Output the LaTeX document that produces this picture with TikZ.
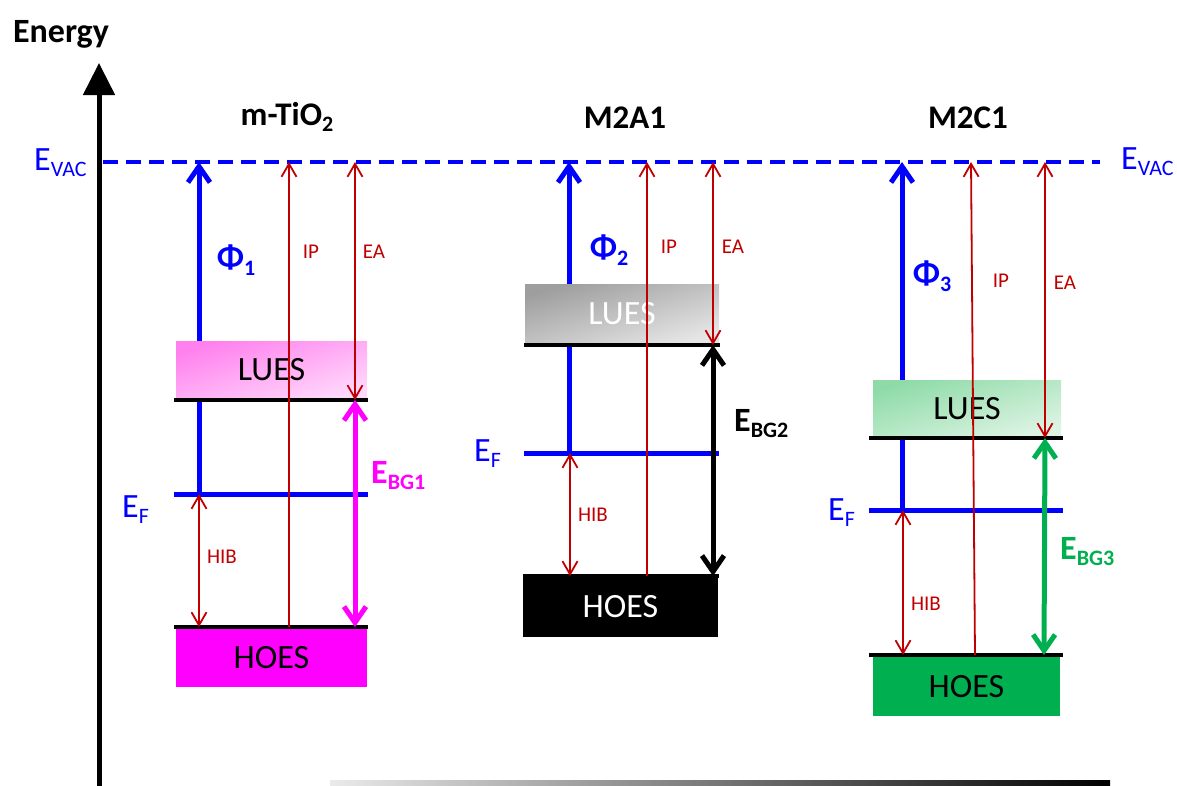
\documentclass[tikz,border=0pt]{standalone}
\usepackage{fontspec}
\setmainfont{Carlito}
\usetikzlibrary{arrows.meta}
\definecolor{vblue}{RGB}{0,0,255}
\definecolor{dred}{RGB}{192,0,0}
\definecolor{mag}{RGB}{255,0,255}
\definecolor{ogreen}{RGB}{0,176,80}
\definecolor{pinkA}{RGB}{255,128,238}
\definecolor{pinkB}{RGB}{255,216,251}
\definecolor{grayA}{RGB}{158,158,158}
\definecolor{grayB}{RGB}{230,230,230}
\definecolor{greenA}{RGB}{143,219,168}
\definecolor{greenB}{RGB}{221,244,228}
\newcommand{\fs}[1]{\fontsize{#1}{#1}\selectfont}
\newcommand{\dn}[2]{\raisebox{-0.2em}{\fs{#1}#2}}
\tikzset{
  lvl/.style={line width=4pt, black},
  efl/.style={line width=5pt, vblue},
  phiarr/.style={line width=5pt, vblue, -{Straight Barb[length=16pt,width=22pt]}},
  redup/.style={line width=1.8pt, dred, -{Straight Barb[length=13pt,width=15pt]}},
  redbi/.style={line width=1.8pt, dred, {Straight Barb[length=13pt,width=15pt]}-{Straight Barb[length=13pt,width=15pt]}},
  bgarr/.style={line width=5pt, {Straight Barb[length=16pt,width=22pt]}-{Straight Barb[length=16pt,width=22pt]}},
  boxn/.style={inner sep=0pt, font=\fs{34}},
  grad/.style 2 args={top color=#1, bottom color=#2, shading angle=17},
  rlbl/.style={dred, font=\fs{21}, inner sep=0pt},
  elbl/.style={vblue, font=\fs{34}, inner sep=0pt, anchor=base west},
  title/.style={font=\bfseries\fs{33}, inner sep=0pt, anchor=base},
  philbl/.style={vblue, font=\bfseries\fs{34}, inner sep=0pt},
}
\begin{document}
\begin{tikzpicture}[x=1pt,y=-1pt]
\useasboundingbox (0,0) rectangle (1177,785);
% axis
\coordinate (axB) at (99,786);
\coordinate (axT) at (99,63);
\draw[line width=5pt, -{Triangle[length=32pt,width=31pt]}] (axB) -- (axT);
\node[title, font=\bfseries\fs{34}] (energy) at (61,42) {Energy};
\shade[left color=black!8, middle color=black!75, right color=black] (330,780) rectangle (1110,786);
% vacuum level
\coordinate (vacL) at (103,162);
\coordinate (vacR) at (1100,162);
\draw[line width=4pt, vblue, dash pattern=on 15pt off 8pt] (vacL) -- (vacR);
\node[elbl] (evacL) at (34,170) {E\dn{22}{VAC}};
\node[elbl] (evacR) at (1121,169) {E\dn{22}{VAC}};

% ================= panel 1: m-TiO2
\node[title] (t1) at (287,125) {m-TiO\dn{22}{2}};
\coordinate (a-phiT) at (199,162);
\coordinate (a-phiB) at (199,494);
\draw[phiarr] (a-phiB) -- (a-phiT);
\node[boxn, grad={pinkA}{pinkB}, minimum width=191pt, minimum height=58pt] (a-lues) at (271.5,370) {LUES};
\node[boxn, fill=mag, minimum width=191pt, minimum height=59pt] (a-hoes) at (271.5,657.5) {HOES};
\coordinate (a-luL) at (174,400); \coordinate (a-luR) at (368,400);
\coordinate (a-efL) at (174,494); \coordinate (a-efR) at (368,494);
\coordinate (a-hoL) at (174,627); \coordinate (a-hoR) at (368,627);
\draw[lvl] (a-luL) -- (a-luR);
\draw[lvl] (a-hoL) -- (a-hoR);
\draw[efl] (a-efL) -- (a-efR);
\coordinate (a-ipT) at (289,162); \coordinate (a-ipB) at (289,627);
\coordinate (a-eaT) at (355,162); \coordinate (a-eaB) at (355,400);
\coordinate (a-bgB) at (355,627);
\coordinate (a-hibT) at (199,494); \coordinate (a-hibB) at (199,627);
\draw[redup] (a-ipB) -- (a-ipT);
\draw[redbi] (a-eaT) -- (a-eaB);
\draw[redbi] (a-hibT) -- (a-hibB);
\draw[bgarr, mag] (a-eaB) -- (a-bgB);
\node[philbl] (a-phi) at (236,260) {Φ\dn{22}{1}};
\node[rlbl] (a-ip) at (311,252) {IP};
\node[rlbl] (a-ea) at (374,252) {EA};
\node[rlbl] (a-hib) at (222,557) {HIB};
\node[elbl] (a-ef) at (122,517) {E\dn{22}{F}};
\node[elbl, mag, font=\bfseries\fs{34}] (a-bg) at (371,483) {E\dn{22}{BG1}};

% ================= panel 2: M2A1
\node[title] (t2) at (625,128) {M2A1};
\coordinate (b-phiT) at (569,162);
\coordinate (b-phiB) at (569,453);
\draw[phiarr] (b-phiB) -- (b-phiT);
\node[boxn, white, grad={grayA}{grayB}, minimum width=194pt, minimum height=60pt] (b-lues) at (622,314) {LUES};
\node[boxn, white, fill=black, minimum width=195pt, minimum height=60pt] (b-hoes) at (620.5,607) {HOES};
\coordinate (b-luL) at (524,345); \coordinate (b-luR) at (720,345);
\coordinate (b-efL) at (524,453); \coordinate (b-efR) at (719,453);
\coordinate (b-hoL) at (523,576); \coordinate (b-hoR) at (719,576);
\draw[lvl] (b-luL) -- (b-luR);
\draw[lvl] (b-hoL) -- (b-hoR);
\draw[efl] (b-efL) -- (b-efR);
\coordinate (b-ipT) at (647,162); \coordinate (b-ipB) at (647,576);
\coordinate (b-eaT) at (713,162); \coordinate (b-eaB) at (713,345);
\coordinate (b-bgB) at (713,576);
\coordinate (b-hibT) at (570,453); \coordinate (b-hibB) at (570,576);
\draw[redup] (b-ipB) -- (b-ipT);
\draw[redbi] (b-eaT) -- (b-eaB);
\draw[redbi] (b-hibT) -- (b-hibB);
\draw[bgarr, black] (b-eaB) -- (b-bgB);
\node[philbl] (b-phi) at (609,250) {Φ\dn{22}{2}};
\node[rlbl] (b-ip) at (669,247) {IP};
\node[rlbl] (b-ea) at (733,247) {EA};
\node[rlbl] (b-hib) at (593,515) {HIB};
\node[elbl] (b-ef) at (474,461) {E\dn{22}{F}};
\node[elbl, black, font=\bfseries\fs{34}] (b-bg) at (734,431) {E\dn{22}{BG2}};

% ================= panel 3: M2C1
\node[title] (t3) at (968,128) {M2C1};
\coordinate (c-phiT) at (902,162);
\coordinate (c-phiB) at (902,510);
\draw[phiarr] (c-phiB) -- (c-phiT);
\node[boxn, grad={greenA}{greenB}, minimum width=188pt, minimum height=57pt] (c-lues) at (967,408.5) {LUES};
\node[boxn, fill=ogreen, minimum width=187pt, minimum height=59pt] (c-hoes) at (966.5,686.5) {HOES};
\coordinate (c-luL) at (869,438); \coordinate (c-luR) at (1063,438);
\coordinate (c-efL) at (869,510); \coordinate (c-efR) at (1063,510);
\coordinate (c-hoL) at (869,655); \coordinate (c-hoR) at (1063,655);
\draw[lvl] (c-luL) -- (c-luR);
\draw[lvl] (c-hoL) -- (c-hoR);
\draw[efl] (c-efL) -- (c-efR);
\coordinate (c-ipT) at (971,162); \coordinate (c-ipB) at (975,655);
\coordinate (c-eaT) at (1045,162); \coordinate (c-eaB) at (1045,438);
\coordinate (c-bgB) at (1044,655);
\coordinate (c-hibT) at (903,510); \coordinate (c-hibB) at (903,655);
\draw[redup] (c-ipB) -- (c-ipT);
\draw[redbi] (c-eaT) -- (c-eaB);
\draw[redbi] (c-hibT) -- (c-hibB);
\draw[bgarr, ogreen] (c-eaB) -- (c-bgB);
\node[philbl] (c-phi) at (932,276) {Φ\dn{22}{3}};
\node[rlbl] (c-ip) at (1001,281) {IP};
\node[rlbl] (c-ea) at (1065,283) {EA};
\node[rlbl] (c-hib) at (926,604) {HIB};
\node[elbl] (c-ef) at (828,520) {E\dn{22}{F}};
\node[elbl, ogreen, font=\bfseries\fs{34}] (c-bg) at (1060,559) {E\dn{22}{BG3}};
\end{tikzpicture}
\end{document}
